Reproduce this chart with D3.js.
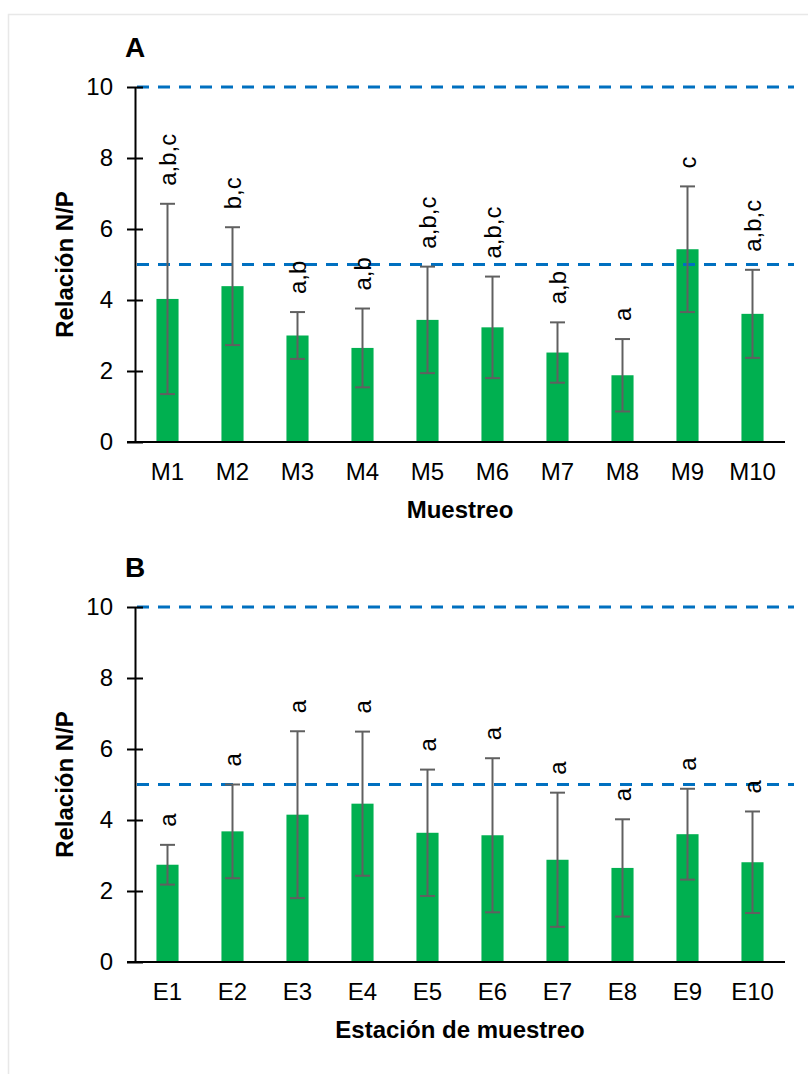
<!DOCTYPE html>
<html>
<head>
<meta charset="utf-8">
<script src="https://cdn.jsdelivr.net/npm/d3@7"></script>
<style>
  body { margin: 0; background: #fff; }
  svg { display: block; font-family: "Liberation Sans", Arial, sans-serif; }
</style>
</head>
<body>
<div id="chart"></div>
<script>
// data
const catsA = ['M1', 'M2', 'M3', 'M4', 'M5', 'M6', 'M7', 'M8', 'M9', 'M10'];
const meanA = [4.03, 4.39, 3.00, 2.65, 3.44, 3.23, 2.52, 1.88, 5.43, 3.61];
const sdA   = [2.68, 1.66, 0.66, 1.11, 1.50, 1.43, 0.85, 1.02, 1.77, 1.24];
const letA  = ['a,b,c', 'b,c', 'a,b', 'a,b', 'a,b,c', 'a,b,c', 'a,b', 'a', 'c', 'a,b,c'];

const catsB = ['E1', 'E2', 'E3', 'E4', 'E5', 'E6', 'E7', 'E8', 'E9', 'E10'];
const meanB = [2.74, 3.68, 4.15, 4.46, 3.64, 3.57, 2.88, 2.65, 3.60, 2.81];
const sdB   = [0.56, 1.32, 2.35, 2.03, 1.78, 2.17, 1.89, 1.37, 1.28, 1.43];
const letB  = ['a', 'a', 'a', 'a', 'a', 'a', 'a', 'a', 'a', 'a'];

const refLines = [5, 10];
const yTicks = [0, 2, 4, 6, 8, 10];

const W = 808, H = 1074;
const svg = d3.select('#chart').append('svg')
    .attr('width', W).attr('height', H);

// light frame
svg.append('rect')
    .attr('x', 8.5).attr('y', 14.5)
    .attr('width', W).attr('height', H)
    .attr('fill', 'none').attr('stroke', '#e8e8e8').attr('stroke-width', 1.5);

const panels = [
  {cats: catsA, mean: meanA, sd: sdA, lab: letA, top: 87, title: 'A', xTitle: 'Muestreo'},
  {cats: catsB, mean: meanB, sd: sdB, lab: letB, top: 607, title: 'B', xTitle: 'Estación de muestreo'}
];

const plotH = 355;
const fs = 24; // regular text size

panels.forEach(p => {
  const g = svg.append('g').attr('transform', `translate(0, ${p.top})`);

  const x = d3.scaleBand().domain(p.cats).range([135, 785])
      .paddingInner(0.66).paddingOuter(0.33);
  const y = d3.scaleLinear().domain([0, 10]).range([plotH, 0]);
  const rows = p.cats.map((c, i) => ({c, m: p.mean[i], s: p.sd[i], l: p.lab[i]}));

  // bars
  g.selectAll('rect.bar').data(rows).join('rect')
      .classed('bar', true)
      .attr('x', d => x(d.c))
      .attr('y', d => y(d.m))
      .attr('width', x.bandwidth())
      .attr('height', d => y(0) - y(d.m))
      .attr('fill', '#00B050');

  // reference dashed lines
  g.selectAll('line.ref').data(refLines).join('line')
      .classed('ref', true)
      .attr('x1', x.range()[0] + 2).attr('x2', x.range()[1] + 9)
      .attr('y1', d => y(d)).attr('y2', d => y(d))
      .attr('stroke', '#0070C0').attr('stroke-width', 3)
      .attr('stroke-dasharray', '12,9');

  // error bars
  const eb = g.selectAll('g.err').data(rows).join('g').classed('err', true)
      .attr('stroke', '#606060').attr('stroke-width', 2);
  const cx = d => x(d.c) + x.bandwidth() / 2;
  eb.append('line')
      .attr('x1', cx).attr('x2', cx)
      .attr('y1', d => y(d.m + d.s)).attr('y2', d => y(d.m - d.s));
  eb.append('line')
      .attr('x1', d => cx(d) - 7.5).attr('x2', d => cx(d) + 7.5)
      .attr('y1', d => y(d.m + d.s)).attr('y2', d => y(d.m + d.s));
  eb.append('line')
      .attr('x1', d => cx(d) - 7.5).attr('x2', d => cx(d) + 7.5)
      .attr('y1', d => y(d.m - d.s)).attr('y2', d => y(d.m - d.s));

  // significance letters
  g.selectAll('text.sig').data(rows).join('text')
      .classed('sig', true)
      .attr('transform', d => `translate(${cx(d) + 8}, ${y(d.m + d.s) - 18}) rotate(-90)`)
      .attr('font-size', fs)
      .attr('fill', '#000')
      .text(d => d.l);

  // y axis with cross ticks
  const ya = g.append('g')
      .attr('transform', `translate(${x.range()[0]}, 0)`)
      .call(d3.axisLeft(y).tickValues(yTicks).tickSizeInner(8).tickSizeOuter(0).tickPadding(14));
  ya.select('.domain').attr('stroke', '#000').attr('stroke-width', 2);
  ya.selectAll('.tick line').attr('x1', 8).attr('stroke', '#000').attr('stroke-width', 2);
  ya.selectAll('.tick text').attr('font-size', fs).attr('fill', '#000')
      .attr('font-family', '"Liberation Sans", Arial, sans-serif');

  // x axis
  const xa = g.append('g')
      .attr('transform', `translate(0, ${plotH})`)
      .call(d3.axisBottom(x).tickSize(0).tickPadding(21));
  xa.select('.domain').remove();
  xa.append('line')
      .attr('x1', x.range()[0] - 8).attr('x2', x.range()[1])
      .attr('stroke', '#000').attr('stroke-width', 2);
  xa.selectAll('.tick text').attr('font-size', fs).attr('fill', '#000')
      .attr('font-family', '"Liberation Sans", Arial, sans-serif');

  // titles
  g.append('text')
      .attr('x', 125).attr('y', -30)
      .attr('font-size', 28).attr('font-weight', 'bold')
      .text(p.title);

  g.append('text')
      .attr('transform', `translate(73, ${plotH / 2}) rotate(-90)`)
      .attr('text-anchor', 'middle')
      .attr('font-size', 24).attr('font-weight', 'bold')
      .text('Relación N/P');

  g.append('text')
      .attr('x', (x.range()[0] + x.range()[1]) / 2)
      .attr('y', plotH + 76)
      .attr('text-anchor', 'middle')
      .attr('font-size', 24).attr('font-weight', 'bold')
      .text(p.xTitle);
});
</script>
</body>
</html>
